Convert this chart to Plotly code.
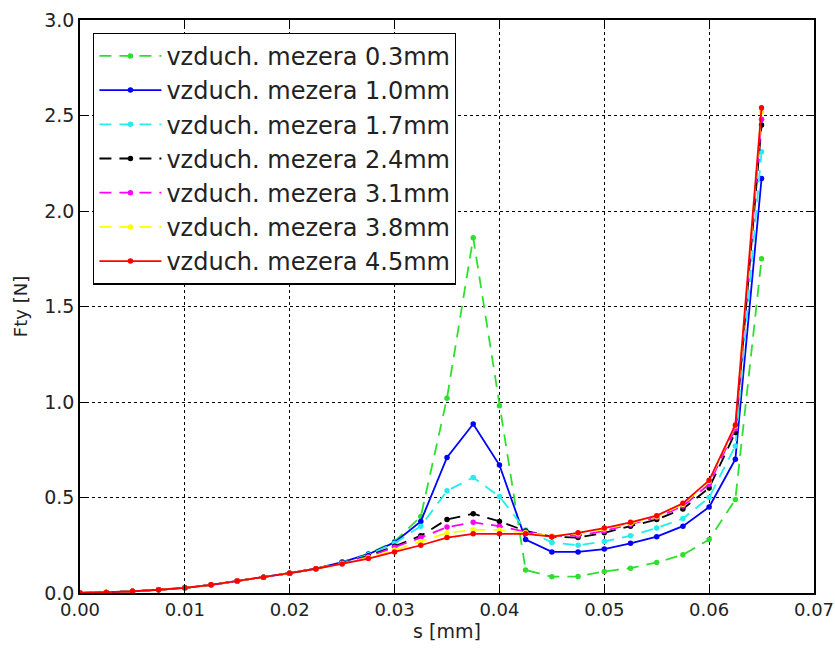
import plotly.graph_objects as go

s_mm = [0.0, 0.0025, 0.005, 0.0075, 0.01, 0.0125, 0.015, 0.0175, 0.02, 0.0225,
        0.025, 0.0275, 0.03, 0.0325, 0.035, 0.0375, 0.04, 0.0425, 0.045, 0.0475,
        0.05, 0.0525, 0.055, 0.0575, 0.06, 0.0625, 0.065]

base = [0.0, 0.003, 0.009, 0.017, 0.027, 0.043, 0.063, 0.082, 0.104, 0.127]

gap_03 = base + [0.162, 0.205, 0.27, 0.40, 1.02, 1.86, 0.98, 0.12, 0.085, 0.087,
                 0.113, 0.13, 0.16, 0.20, 0.28, 0.49, 1.75]
gap_10 = base + [0.162, 0.203, 0.265, 0.375, 0.71, 0.885, 0.67, 0.28, 0.215, 0.215,
                 0.23, 0.26, 0.295, 0.35, 0.45, 0.70, 2.17]
gap_17 = base + [0.16, 0.20, 0.26, 0.35, 0.535, 0.605, 0.505, 0.33, 0.265, 0.25,
                 0.27, 0.30, 0.34, 0.39, 0.50, 0.77, 2.31]
gap_24 = base + [0.158, 0.195, 0.245, 0.30, 0.385, 0.415, 0.375, 0.325, 0.295, 0.29,
                 0.315, 0.35, 0.385, 0.44, 0.55, 0.84, 2.45]
gap_31 = base + [0.156, 0.19, 0.24, 0.29, 0.345, 0.37, 0.35, 0.32, 0.297, 0.30,
                 0.325, 0.36, 0.395, 0.455, 0.57, 0.86, 2.48]
gap_38 = base + [0.154, 0.185, 0.225, 0.27, 0.315, 0.33, 0.33, 0.315, 0.298, 0.31,
                 0.335, 0.365, 0.40, 0.465, 0.585, 0.875, 2.52]
gap_45 = base + [0.152, 0.18, 0.215, 0.25, 0.29, 0.31, 0.31, 0.31, 0.295, 0.315,
                 0.34, 0.37, 0.405, 0.47, 0.59, 0.88, 2.54]

x_ticks = [0.0, 0.01, 0.02, 0.03, 0.04, 0.05, 0.06, 0.07]
x_tick_labels = ["0.00", "0.01", "0.02", "0.03", "0.04", "0.05", "0.06", "0.07"]
y_ticks = [0.0, 0.5, 1.0, 1.5, 2.0, 2.5, 3.0]
y_tick_labels = ["0.0", "0.5", "1.0", "1.5", "2.0", "2.5", "3.0"]

names = ["vzduch. mezera 0.3mm", "vzduch. mezera 1.0mm", "vzduch. mezera 1.7mm",
         "vzduch. mezera 2.4mm", "vzduch. mezera 3.1mm", "vzduch. mezera 3.8mm",
         "vzduch. mezera 4.5mm"]
series = [gap_03, gap_10, gap_17, gap_24, gap_31, gap_38, gap_45]
colors = ["#2ee02e", "#0000ff", "#22eeee", "#000000", "#ff00ff", "#ffff00", "#ff0000"]
dashes = ["12px,8px", "solid", "12px,8px", "12px,8px", "12px,8px", "12px,8px", "solid"]

fig = go.Figure()
for n, y, c, d in zip(names, series, colors, dashes):
    fig.add_trace(go.Scatter(
        x=s_mm, y=y, name=n, mode="lines+markers",
        line=dict(color=c, width=1.8, dash=d),
        marker=dict(color=c, size=5.5, line=dict(width=0)),
    ))

axis_common = dict(
    showline=True, linecolor="black", linewidth=1.5, mirror="ticks",
    ticks="inside", ticklen=8, tickcolor="black", tickwidth=1,
    showgrid=True, gridcolor="black", gridwidth=0.8, griddash="dot",
    zeroline=False, ticklabeloverflow="allow", automargin=False,
)

fig.update_layout(
    width=835, height=650,
    margin=dict(l=80, r=21, t=20, b=57),
    paper_bgcolor="white", plot_bgcolor="white",
    font=dict(family="DejaVu Sans", color="#222"),
    xaxis=dict(range=[0, 0.07], tickmode="array", tickvals=x_ticks,
               ticktext=x_tick_labels,
               tickfont=dict(family="DejaVu Sans", size=18, color="#222"),
               title=dict(text="s [mm]", font=dict(size=19), standoff=4),
               **axis_common),
    yaxis=dict(range=[0, 3.0], tickmode="array", tickvals=y_ticks,
               ticktext=y_tick_labels,
               tickfont=dict(family="DejaVu Sans", size=19, color="#222"),
               title=dict(text="Fty [N]", font=dict(size=18), standoff=12),
               **axis_common),
    legend=dict(x=0.018, y=0.978, xanchor="left", yanchor="top",
                bgcolor="white", bordercolor="black", borderwidth=1.2,
                font=dict(family="DejaVu Sans", size=24, color="#222"),
                itemwidth=62, tracegroupgap=0),
    showlegend=True,
)

fig.write_html("out.html")
